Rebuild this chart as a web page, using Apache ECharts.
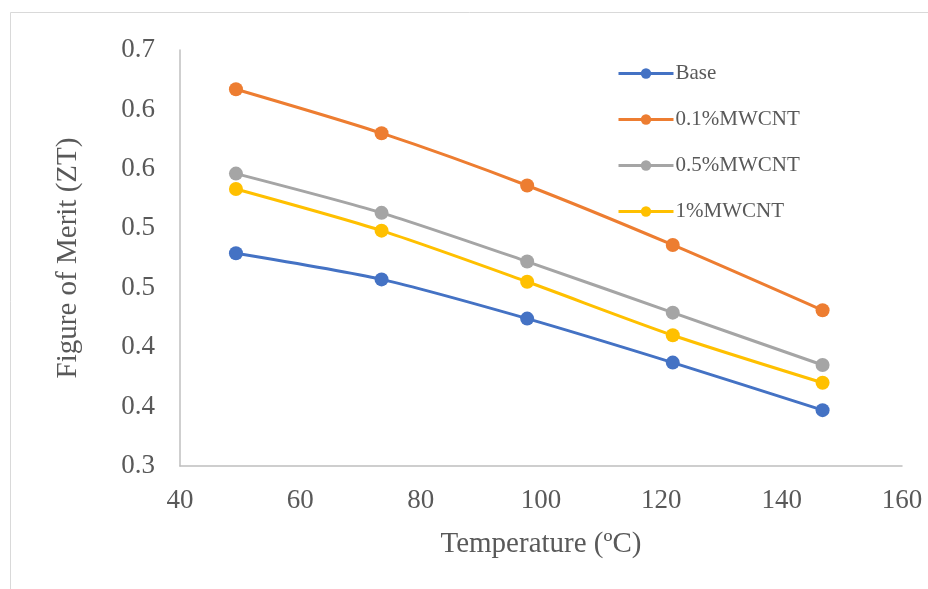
<!DOCTYPE html>
<html>
<head>
<meta charset="utf-8">
<script src="https://cdn.jsdelivr.net/npm/echarts@6/dist/echarts.min.js"></script>
<style>
  html, body { margin: 0; padding: 0; background: #fff; }
  #chart { width: 928px; height: 589px; }
</style>
</head>
<body>
<div id="chart"></div>
<script>
// Temperature (ºC) at each measurement
const temperatures = [49.3, 73.5, 97.7, 121.9, 146.8];

// Figure of merit (ZT) per nanofluid
const seriesNames = ['Base', '0.1%MWCNT', '0.5%MWCNT', '1%MWCNT'];
const ztBase = [0.479, 0.457, 0.424, 0.387, 0.347];
const zt01 = [0.617, 0.580, 0.536, 0.486, 0.431];
const zt05 = [0.546, 0.513, 0.472, 0.429, 0.385];
const zt1 = [0.533, 0.498, 0.455, 0.410, 0.370];
const seriesColors = ['#4472C4', '#ED7D31', '#A5A5A5', '#FFC000'];

// Y tick labels are shown with one decimal place
const yTickLabels = ['0.3', '0.4', '0.4', '0.5', '0.5', '0.6', '0.6', '0.7'];
const yMin = 0.30, yMax = 0.65, yStep = 0.05;

const font = '"Liberation Serif", "Times New Roman", serif';
const textColor = '#595959';

const allValues = [ztBase, zt01, zt05, zt1];

const chart = echarts.init(document.getElementById('chart'), null, { renderer: 'canvas' });

chart.setOption({
  backgroundColor: '#fff',
  animation: false,
  graphic: [{
    type: 'rect',
    shape: { x: 10.5, y: 12.5, width: 940, height: 600 },
    style: { fill: 'none', stroke: '#D9D9D9', lineWidth: 1 },
    silent: true
  }],
  grid: { left: 180, right: 26, top: 50, bottom: 123 },
  legend: {
    orient: 'vertical',
    left: 612,
    top: 58,
    itemWidth: 55,
    itemHeight: 13,
    itemGap: 25,
    data: seriesNames,
    lineStyle: { width: 3 },
    textStyle: { fontFamily: font, fontSize: 21, color: textColor, lineHeight: 20, padding: [0, 0, 0, -3] }
  },
  xAxis: {
    type: 'value',
    min: 40, max: 160, interval: 20,
    name: 'Temperature (ºC)',
    nameLocation: 'middle',
    nameGap: 64,
    nameTextStyle: { fontFamily: font, fontSize: 29, color: textColor },
    axisLine: { show: true, lineStyle: { color: '#BFBFBF', width: 1.5 } },
    axisTick: { show: false },
    splitLine: { show: false },
    axisLabel: { fontFamily: font, fontSize: 27, color: textColor, margin: 21 }
  },
  yAxis: {
    type: 'value',
    min: yMin, max: yMax, interval: yStep,
    name: 'Figure of Merit (ZT)',
    nameLocation: 'middle',
    nameGap: 97,
    nameTextStyle: { fontFamily: font, fontSize: 29, color: textColor },
    axisLine: { show: true, lineStyle: { color: '#BFBFBF', width: 1.5 } },
    axisTick: { show: false },
    splitLine: { show: false },
    axisLabel: {
      fontFamily: font, fontSize: 27, color: textColor, margin: 25,
      formatter: v => yTickLabels[Math.round((v - yMin) / yStep)] ?? ''
    }
  },
  series: seriesNames.map((name, i) => ({
    name,
    type: 'line',
    smooth: 0.25,
    symbol: 'circle',
    symbolSize: 14,
    color: seriesColors[i],
    lineStyle: { width: 3, color: seriesColors[i] },
    itemStyle: { color: seriesColors[i] },
    data: temperatures.map((t, j) => [t, allValues[i][j]])
  }))
});
</script>
</body>
</html>
